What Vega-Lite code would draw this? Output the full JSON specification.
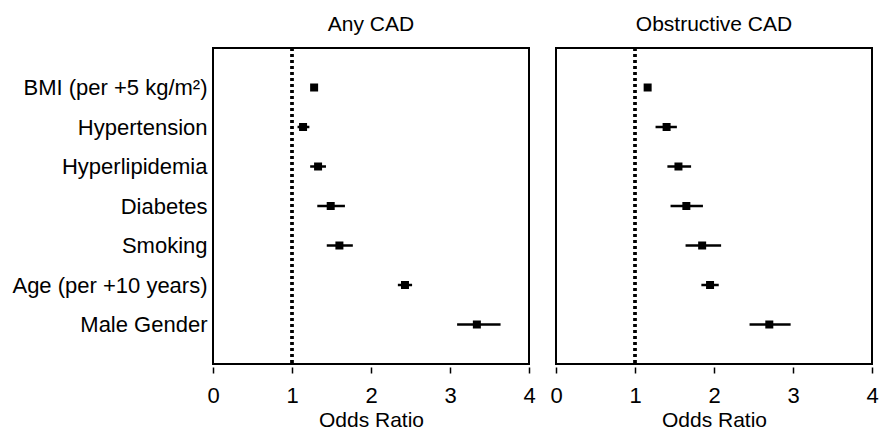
{
  "$schema": "https://vega.github.io/schema/vega-lite/v6.json",
  "background": "white",
  "padding": {"left": 7, "top": 14, "right": 2, "bottom": 2},
  "config": {
    "font": "Liberation Sans",
    "view": {"stroke": "black", "strokeWidth": 2},
    "axis": {"labelColor": "black", "titleColor": "black", "labelFont": "Liberation Sans", "titleFont": "Liberation Sans"}
  },
  "data": {
    "values": [
      {"outcome": "Any CAD", "factor": "BMI (per +5 kg/m²)", "or": 1.28, "lo": 1.25, "hi": 1.31},
      {"outcome": "Any CAD", "factor": "Hypertension", "or": 1.14, "lo": 1.07, "hi": 1.22},
      {"outcome": "Any CAD", "factor": "Hyperlipidemia", "or": 1.33, "lo": 1.23, "hi": 1.43},
      {"outcome": "Any CAD", "factor": "Diabetes", "or": 1.49, "lo": 1.32, "hi": 1.67},
      {"outcome": "Any CAD", "factor": "Smoking", "or": 1.60, "lo": 1.44, "hi": 1.77},
      {"outcome": "Any CAD", "factor": "Age (per +10 years)", "or": 2.43, "lo": 2.34, "hi": 2.52},
      {"outcome": "Any CAD", "factor": "Male Gender", "or": 3.34, "lo": 3.09, "hi": 3.64},
      {"outcome": "Obstructive CAD", "factor": "BMI (per +5 kg/m²)", "or": 1.16, "lo": 1.12, "hi": 1.19},
      {"outcome": "Obstructive CAD", "factor": "Hypertension", "or": 1.40, "lo": 1.26, "hi": 1.53},
      {"outcome": "Obstructive CAD", "factor": "Hyperlipidemia", "or": 1.55, "lo": 1.41, "hi": 1.71},
      {"outcome": "Obstructive CAD", "factor": "Diabetes", "or": 1.65, "lo": 1.45, "hi": 1.86},
      {"outcome": "Obstructive CAD", "factor": "Smoking", "or": 1.85, "lo": 1.64, "hi": 2.09},
      {"outcome": "Obstructive CAD", "factor": "Age (per +10 years)", "or": 1.95, "lo": 1.84, "hi": 2.06},
      {"outcome": "Obstructive CAD", "factor": "Male Gender", "or": 2.70, "lo": 2.45, "hi": 2.97}
    ]
  },
  "facet": {
    "column": {
      "field": "outcome",
      "type": "nominal",
      "sort": ["Any CAD", "Obstructive CAD"],
      "header": {"title": null, "labelFontSize": 21, "labelFont": "Liberation Sans", "labelColor": "black", "labelPadding": 10}
    }
  },
  "spacing": 25,
  "spec": {
    "width": 316,
    "height": 316,
    "layer": [
      {
        "mark": {"type": "rule", "strokeDash": [3, 3], "strokeWidth": 2.5, "color": "black"},
        "encoding": {"x": {"datum": 1, "type": "quantitative"}}
      },
      {
        "mark": {"type": "rule", "strokeWidth": 2.5, "color": "black"},
        "encoding": {
          "y": {
            "field": "factor",
            "type": "nominal",
            "sort": ["BMI (per +5 kg/m²)", "Hypertension", "Hyperlipidemia", "Diabetes", "Smoking", "Age (per +10 years)", "Male Gender"]
          },
          "x": {"field": "lo", "type": "quantitative"},
          "x2": {"field": "hi"}
        }
      },
      {
        "mark": {"type": "square", "size": 64, "filled": true, "opacity": 1, "color": "black"},
        "encoding": {
          "y": {
            "field": "factor",
            "type": "nominal",
            "sort": ["BMI (per +5 kg/m²)", "Hypertension", "Hyperlipidemia", "Diabetes", "Smoking", "Age (per +10 years)", "Male Gender"],
            "scale": {"type": "point", "padding": 1},
            "axis": {"title": null, "ticks": false, "domain": false, "grid": false, "labelFontSize": 22, "labelPadding": 5, "labelLimit": 0, "minExtent": 205, "maxExtent": 205}
          },
          "x": {
            "field": "or",
            "type": "quantitative",
            "scale": {"domain": [0, 4], "nice": false, "zero": false},
            "axis": {"title": "Odds Ratio", "values": [0, 1, 2, 3, 4], "format": "d", "grid": false, "domain": false, "ticks": true, "tickSize": 6, "tickWidth": 1.5, "tickColor": "black", "labelFlush": false, "labelFontSize": 22, "labelPadding": 12, "titleFontSize": 21, "titleFontWeight": "normal", "titlePadding": 3}
          }
        }
      }
    ]
  }
}
